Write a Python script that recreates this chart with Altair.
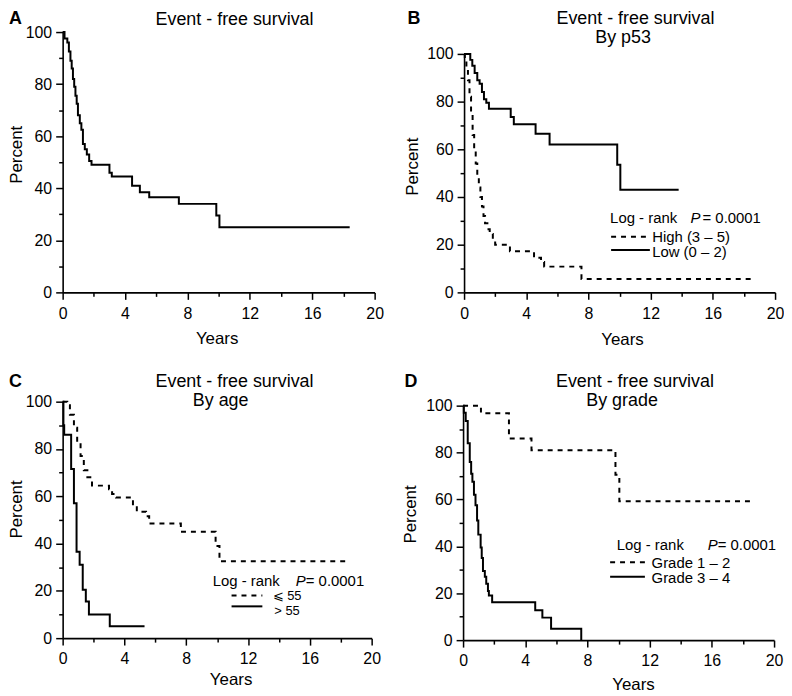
import altair as alt
import pandas as pd

FONT = "Liberation Sans"

# ---------------- data ----------------
# Panel A: all patients
a_t = [0, 0.12, 0.3, 0.4, 0.5, 0.58, 0.66, 0.74, 0.82, 0.9, 0.98, 1.1, 1.2, 1.3,
       1.42, 1.55, 1.7, 1.85, 3.0, 3.15, 4.45, 4.95, 5.55, 7.45, 9.85, 10.05, 18.4]
a_s = [100, 97.5, 96, 92.5, 89, 86, 82, 79, 75.5, 72.5, 68, 65, 62.5, 57,
       55, 53, 50.5, 49, 46, 44.5, 41, 38.5, 36.5, 34, 29.5, 25, 25]

# Panel B: by p53
b_low_t = [0, 0.4, 0.53, 0.68, 0.85, 1.0, 1.15, 1.28, 1.43, 1.6, 3.0, 3.2, 4.6,
           5.5, 9.85, 10.05, 13.8]
b_low_s = [100, 97.5, 95, 92, 89, 87.5, 84, 81, 79.5, 77, 73.5, 70.5, 66.5,
           62, 53.5, 43, 43]
b_high_t = [0, 0.05, 0.15, 0.25, 0.35, 0.45, 0.55, 0.65, 0.75, 0.85, 0.95, 1.05,
            1.15, 1.25, 1.35, 1.5, 1.65, 1.85, 2.0, 2.95, 4.5, 4.95, 5.15, 7.55, 18.5]
b_high_s = [100, 97, 94, 89, 82, 74, 66, 60, 54, 49, 44, 40,
            36, 32, 29, 26.5, 24.5, 22, 20, 17.2, 14.5, 12.7, 10.8, 5.6, 5.6]

# Panel C: by age
c_young_t = [0, 0.3, 0.47, 0.73, 0.94, 1.16, 1.37, 1.6, 1.9, 3.0, 3.2, 3.45,
             4.55, 4.8, 5.4, 5.6, 7.65, 9.9, 10.15, 18.4]
c_young_s = [100, 98.5, 94.5, 89, 82.5, 77, 71, 68, 64.5, 63, 61, 59.5,
             56, 53.5, 51.5, 48.5, 45, 39, 32.5, 32.5]
c_old_t = [0, 0.05, 0.1, 0.55, 0.73, 0.9, 1.1, 1.3, 1.5, 1.7, 3.05, 5.3]
c_old_s = [100, 90, 86, 71.5, 57, 36.5, 31, 20.5, 15.5, 10, 5, 5]

# Panel D: by grade
d12_t = [0, 1.15, 2.95, 4.4, 9.8, 10.05, 18.5]
d12_s = [100, 96.8, 86, 81, 70.5, 59.2, 59.2]
d34_t = [0, 0.05, 0.17, 0.3, 0.43, 0.52, 0.6, 0.7, 0.8, 0.9, 0.98, 1.13, 1.2,
         1.28, 1.4, 1.49, 1.6, 1.66, 1.87, 4.64, 5.1, 5.66, 7.6]
d34_s = [100, 97, 93.5, 84, 76, 71, 67.5, 62, 57.5, 51, 45, 39.5, 35,
         29.5, 27, 24, 21, 19, 16.2, 12.7, 9.6, 4.9, 0]

x_ticks = list(range(0, 21, 2))
y_ticks = list(range(0, 101, 10))

TITLE = "Event - free survival"
LOGRANK = "Log - rank"
PVAL = "= 0.0001"


# ---------------- helpers ----------------
def axes(px, py, yx, yy):
    common = dict(grid=False, domainColor="black", tickColor="black",
                  domainWidth=1.6, tickWidth=1.5, labelFont=FONT, labelFontSize=16,
                  labelColor="black", titleFont=FONT, titleFontSize=17,
                  titleFontWeight="normal", titleColor="black", labelFlush=False,
                  labelOverlap=False)
    yaxis = alt.Axis(values=y_ticks,
                     labelExpr="datum.value % 20 === 0 ? datum.label : ''",
                     tickSize={"condition": {"test": "datum.value % 20 === 0", "value": 7}, "value": 4},
                     labelPadding=4, title="Percent", titleAngle=270,
                     titleAlign="center", titleBaseline="middle",
                     titleX=px, titleY=py, **common)
    xaxis = alt.Axis(values=x_ticks,
                     labelExpr="datum.value % 4 === 0 ? datum.label : ''",
                     tickSize={"condition": {"test": "datum.value % 4 === 0", "value": 7}, "value": 4},
                     labelPadding=6, title="Years", titleAlign="center",
                     titleBaseline="middle", titleX=yx, titleY=yy, **common)
    return xaxis, yaxis


def curve(t, s, dashed, xaxis, yaxis, yscale):
    df = pd.DataFrame({"t": t, "s": s})
    kw = dict(interpolate="step-after", color="black", strokeWidth=2)
    if dashed:
        kw["strokeDash"] = [5, 5]
    return alt.Chart(df).mark_line(**kw).encode(
        x=alt.X("t:Q", scale=alt.Scale(domain=[0, 20], nice=False), axis=xaxis),
        y=alt.Y("s:Q", scale=yscale, axis=yaxis),
    )


def txt(s, x, y, size=15, align="left", weight="normal", style="normal"):
    return alt.Chart(pd.DataFrame({"label": [s]})).mark_text(
        align=align, baseline="alphabetic", fontSize=size, font=FONT,
        fontWeight=weight, fontStyle=style, color="black"
    ).encode(x=alt.value(x), y=alt.value(y), text="label:N")


def sample(x1, x2, y, dashed):
    kw = dict(color="black", strokeWidth=2)
    if dashed:
        kw["strokeDash"] = [5, 5]
    return alt.Chart(pd.DataFrame({"k": [0]})).mark_rule(**kw).encode(
        x=alt.value(x1), x2=alt.value(x2), y=alt.value(y))


def legend(lx, ly, px, vx, dx1, dx2, dy, dlab, sy, slab, tx, ty1, ty2, lab_size=15, tx2=None):
    return [
        txt(LOGRANK, lx, ly),
        txt("P", px, ly, style="italic"),
        txt(PVAL, vx, ly),
        sample(dx1, dx2, dy, True),
        txt(dlab, tx, ty1, size=lab_size),
        sample(dx1, dx2, sy, False),
        txt(slab, tx2 if tx2 is not None else tx, ty2, size=lab_size),
    ]


# ---------------- panel A ----------------
xa, ya = axes(-46, 123, 155, 46)
ys_a = alt.Scale(domain=[0, 100], nice=False)
panel_a = alt.layer(
    curve(a_t, a_s, False, xa, ya, ys_a),
    txt("A", -54, -8, size=18, weight="bold"),
    txt(TITLE, 173, -7.5, size=18, align="center"),
).properties(width=314, height=262)

# ---------------- panel B ----------------
xb, yb = axes(-52, 135, 159, 47)
ys_b = alt.Scale(domain=[0, 100], nice=False, range=[262, 22])
panel_b = alt.layer(
    curve(b_high_t, b_high_s, True, xb, yb, ys_b),
    curve(b_low_t, b_low_s, False, xb, yb, ys_b),
    txt("B", -57, -8, size=18, weight="bold"),
    txt(TITLE, 172.5, -8, size=18, align="center"),
    txt("By p53", 160, 11, size=18, align="center"),
    *legend(147, 191.7, 228, 240, 148, 187, 206, "High (3 – 5)", 219.3,
            "Low (0 – 2)", 189.3, 211, 226),
).properties(width=313, height=262)

# ---------------- panel C ----------------
xc, yc = axes(-46, 108, 169, 42)
ys_c = alt.Scale(domain=[0, 100], nice=False)
panel_c = alt.layer(
    curve(c_young_t, c_young_s, True, xc, yc, ys_c),
    curve(c_old_t, c_old_s, False, xc, yc, ys_c),
    txt("C", -54, -14.7, size=18, weight="bold"),
    txt(TITLE, 173, -15, size=18, align="center"),
    txt("By age", 159, 4, size=18, align="center"),
    *legend(151, 185.7, 234.7, 244.7, 170, 201, 195, "⩽ 55", 206,
            "> 55", 211.3, 199.5, 215, lab_size=13, tx2=213),
).properties(width=311, height=238)

# ---------------- panel D ----------------
xd, yd = axes(-52.5, 113, 171, 45)
ys_d = alt.Scale(domain=[0, 100], nice=False, range=[240, 4])
panel_d = alt.layer(
    curve(d12_t, d12_s, True, xd, yd, ys_d),
    curve(d34_t, d34_s, False, xd, yd, ys_d),
    txt("D", -59, -14.7, size=18, weight="bold"),
    txt(TITLE, 173, -14.5, size=18, align="center"),
    txt("By grade", 160, 4, size=18, align="center"),
    *legend(154.7, 149.7, 246.3, 256.3, 148, 183, 161.7, "Grade 1 – 2", 176.3,
            "Grade 3 – 4", 189.7, 167.3, 182.3),
).properties(width=313, height=240)

top = alt.hconcat(panel_a, panel_b, spacing=90, bounds="flush")
bottom = alt.hconcat(panel_c, panel_d, spacing=92, bounds="flush")

# nested rows report no height in flush mode, so the row height is in the spacing
chart = alt.vconcat(top, bottom, spacing=262 + 110, bounds="flush").properties(
    padding=0, background="white"
).configure_view(stroke=None)

chart.save("out.html", embed_options={"renderer": "svg", "actions": False})
